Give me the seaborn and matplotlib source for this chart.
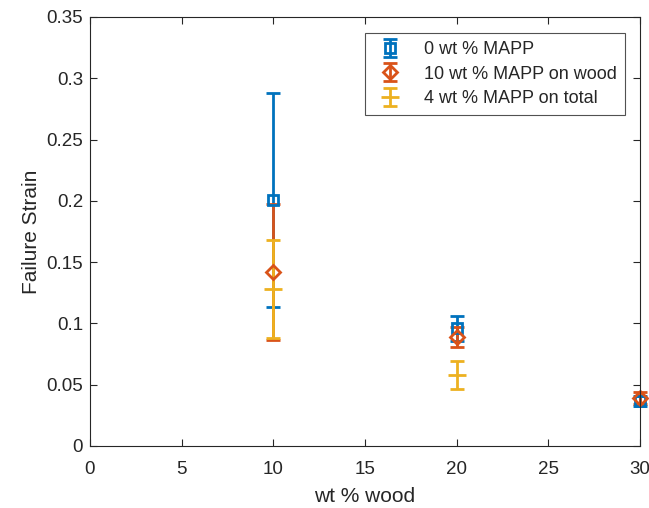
import matplotlib
matplotlib.use("Agg")
import matplotlib.pyplot as plt
import seaborn as sns

# data
x_mapp0 = [10, 20, 30]
y_mapp0 = [0.2005, 0.096, 0.037]
err_mapp0 = [0.0875, 0.010, 0.004]

x_wood = [10, 20, 30]
y_wood = [0.142, 0.089, 0.039]
err_wood = [0.0555, 0.008, 0.005]

x_total = [10, 20]
y_total = [0.128, 0.058]
err_total = [0.040, 0.0115]

labels = ["0 wt % MAPP", "10 wt % MAPP on wood", "4 wt % MAPP on total"]
colors = ["#0072BD", "#D95319", "#EDB120"]

sns.set_style("white")
plt.rcParams["font.family"] = ["Liberation Sans", "DejaVu Sans"]

fig = plt.figure(figsize=(6.49, 5.08), dpi=100)
ax = fig.add_axes([90 / 649, 62 / 508, 550 / 649, 429 / 508])

series = [
    (x_mapp0, y_mapp0, err_mapp0, "s", 7),
    (x_wood, y_wood, err_wood, "D", 7),
    (x_total, y_total, err_total, "_", 13),
]
for (xs, ys, es, mk, ms), lab, c in zip(series, labels, colors):
    ax.errorbar(xs, ys, yerr=es, fmt=mk, color=c, mfc="none", mec=c,
                mew=2, ms=ms, elinewidth=2, capsize=5, capthick=2,
                label=lab, clip_on=False)

ax.set_xlim(0, 30)
ax.set_ylim(0, 0.35)
ax.set_xticks(range(0, 31, 5))
ax.set_yticks([0, 0.05, 0.1, 0.15, 0.2, 0.25, 0.3, 0.35])
ax.set_yticklabels(["0", "0.05", "0.1", "0.15", "0.2", "0.25", "0.3", "0.35"])
ax.tick_params(direction="in", length=5, width=0.8, colors="#262626",
               labelsize=13.5, top=True, right=True, bottom=True, left=True,
               labelcolor="#262626", pad=5)
ax.tick_params(axis="x", pad=11)
for s in ax.spines.values():
    s.set_color("#262626")
    s.set_linewidth(0.8)

ax.set_xlabel("wt % wood", fontsize=15, color="#262626", labelpad=6)
ax.set_ylabel("Failure Strain", fontsize=15, color="#262626", labelpad=4)

leg = ax.legend(loc="upper right", bbox_to_anchor=(0.973, 0.963),
                fontsize=13, frameon=True, fancybox=False, borderpad=0.45,
                handlelength=1.95, handletextpad=0.9, labelspacing=0.42,
                borderaxespad=0)
leg.get_frame().set_edgecolor("#262626")
leg.get_frame().set_linewidth(0.8)

fig.savefig("out.png", dpi=100)
